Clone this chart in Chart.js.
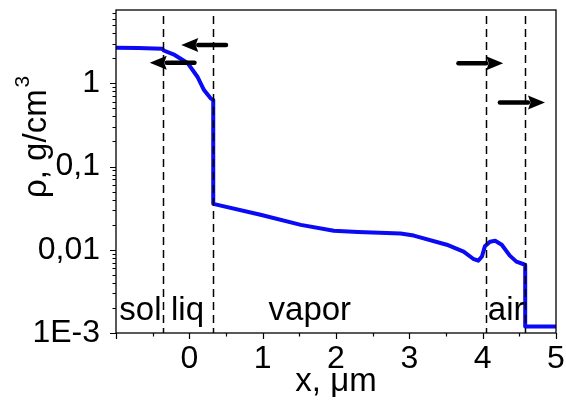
<!DOCTYPE html>
<html>
<head>
<meta charset="utf-8">
<script src="https://cdn.jsdelivr.net/npm/chart.js@4/dist/chart.umd.min.js"></script>
<style>
	html, body { margin: 0; padding: 0; background: #fff; }
	#wrap { width: 566px; height: 402px; }
</style>
</head>
<body>
<div id="wrap"><canvas id="chart" width="566" height="402"></canvas></div>
<script>

// density profile, x in micrometres, rho in g/cm3
const xValues = [ -1, -0.7, -0.37, -0.35, -0.2, -0.02, 0.11, 0.2, 0.29, 0.326, 0.326, 0.97, 1.52, 1.97, 2.3, 2.88, 3.06, 3.51, 3.74, 3.87, 3.94, 3.99, 4.03, 4.1, 4.17, 4.26, 4.37, 4.46, 4.56, 4.58, 4.58, 5 ];
const densityValues = [ 2.67, 2.65, 2.6, 2.48, 2.19, 1.74, 1.2, 0.83, 0.66, 0.63, 0.0356, 0.0263, 0.0199, 0.0169, 0.0163, 0.0157, 0.0148, 0.0115, 0.0095, 0.0078, 0.0074, 0.0083, 0.011, 0.0125, 0.0128, 0.0115, 0.0085, 0.0072, 0.0067, 0.0066, 0.0012, 0.0012 ];

// phase boundaries (dashed) and region names
const boundaryX = [ -0.36, 0.326, 4.04, 4.58 ];
const regionNames = [ 'sol', 'liq', 'vapor', 'air' ];
const regionX = [ -0.955, -0.25, 1.08, 4.07 ];
const regionY = 0.00145;

// arrows showing direction of boundary motion
const arrowTailX = [ 0.5, 0.07, 3.67, 4.235 ];
const arrowTipX = [ -0.11, -0.54, 4.28, 4.85 ];
const arrowY = [ 2.88, 1.77, 1.74, 0.59 ];

// axes
const xMin = -1;
const xMax = 5;
const xLabelled = [ 0, 1, 2, 3, 4, 5 ];
const yMin = 0.001;
const yMax = 7.6;
const yTickValues = [ 0.001, 0.01, 0.1, 1 ];
const yTickLabels = [ '1E-3', '0,01', '0,1', '1' ];

const FONT = "'Liberation Sans', Arial, sans-serif";

Chart.defaults.font.family = FONT;
Chart.defaults.color = '#000';

function xTickList () {

	const list = [];
	for ( let v = xMin; v <= xMax + 1e-9; v += 0.5 ) list.push( Math.round( v * 10 ) / 10 );
	return list;

}

function yTickList () {

	const list = [];
	for ( let e = -3; e <= 0; e++ ) {

		for ( let m = 1; m <= 9; m++ ) {

			const v = Math.round( m * Math.pow( 10, e ) * 1e6 ) / 1e6;
			if ( v <= yMax ) list.push( v );

		}

	}
	return list;

}

function isMajorY ( v ) {

	return yTickValues.some( t => Math.abs( t - v ) < t * 1e-6 );

}

const decorations = {
	id: 'decorations',
	afterDatasetsDraw ( chart ) {

		const ctx = chart.ctx;
		const area = chart.chartArea;
		const xs = chart.scales.x;
		const ys = chart.scales.y;

		ctx.save();

		// dashed boundaries
		ctx.strokeStyle = '#000';
		ctx.lineWidth = 1.5;
		ctx.setLineDash( [ 8, 5 ] );
		boundaryX.forEach( bx => {

			const px = Math.round( xs.getPixelForValue( bx ) ) + 0.5;
			ctx.beginPath();
			ctx.moveTo( px, area.top + 6 );
			ctx.lineTo( px, area.bottom );
			ctx.stroke();

		} );
		ctx.setLineDash( [] );

		// region names
		ctx.fillStyle = '#000';
		ctx.font = '33px ' + FONT;
		ctx.textAlign = 'left';
		ctx.textBaseline = 'alphabetic';
		regionNames.forEach( ( name, i ) => {

			ctx.fillText( name, xs.getPixelForValue( regionX[ i ] ), ys.getPixelForValue( regionY ) );

		} );

		// arrows
		arrowY.forEach( ( ay, i ) => {

			const x1 = xs.getPixelForValue( arrowTailX[ i ] );
			const x2 = xs.getPixelForValue( arrowTipX[ i ] );
			const y = ys.getPixelForValue( ay );
			const dir = Math.sign( x2 - x1 );
			const headLen = 17;
			const headHalf = 7;

			ctx.lineWidth = 4.5;
			ctx.lineCap = 'round';
			ctx.beginPath();
			ctx.moveTo( x1, y );
			ctx.lineTo( x2 - dir * headLen, y );
			ctx.stroke();

			ctx.beginPath();
			ctx.moveTo( x2, y );
			ctx.lineTo( x2 - dir * headLen, y - headHalf );
			ctx.lineTo( x2 - dir * headLen * 0.85, y );
			ctx.lineTo( x2 - dir * headLen, y + headHalf );
			ctx.closePath();
			ctx.fill();

		} );
		ctx.lineCap = 'butt';

		// frame
		ctx.lineWidth = 1.3;
		ctx.strokeRect( area.left, area.top, area.right - area.left, area.bottom - area.top );

		// tick marks, outward, long for major and short for minor
		ctx.lineWidth = 1.2;
		ctx.beginPath();
		xTickList().forEach( v => {

			const px = Math.round( xs.getPixelForValue( v ) ) + 0.5;
			const len = Number.isInteger( v ) ? 6 : 3.5;
			ctx.moveTo( px, area.bottom );
			ctx.lineTo( px, area.bottom + len );

		} );
		yTickList().forEach( v => {

			const py = Math.round( ys.getPixelForValue( v ) ) + 0.5;
			const len = isMajorY( v ) ? 6 : 3.5;
			ctx.moveTo( area.left, py );
			ctx.lineTo( area.left - len, py );

		} );
		ctx.stroke();

		// axis titles
		ctx.font = '33px ' + FONT;
		ctx.textAlign = 'center';
		ctx.fillText( 'x, \u03bcm', 336, 391 );

		ctx.translate( 46, 198 );
		ctx.rotate( -Math.PI / 2 );
		ctx.textAlign = 'left';
		ctx.fillText( '\u03c1, g/cm', 0, 0 );
		const w = ctx.measureText( '\u03c1, g/cm' ).width;
		ctx.font = '21px ' + FONT;
		ctx.fillText( '3', w + 2, -17 );

		ctx.restore();

	}
};

const points = xValues.map( ( x, i ) => ( { x: x, y: densityValues[ i ] } ) );

new Chart( document.getElementById( 'chart' ), {
	type: 'scatter',
	data: {
		datasets: [ {
			data: points,
			showLine: true,
			borderColor: '#0a0af5',
			borderWidth: 4,
			pointRadius: 0,
			tension: 0,
			borderJoinStyle: 'round'
		} ]
	},
	options: {
		responsive: false,
		animation: false,
		devicePixelRatio: 1,
		layout: {
			padding: { top: 10, right: 10, left: 0, bottom: 0 }
		},
		plugins: {
			legend: { display: false },
			tooltip: { enabled: false }
		},
		scales: {
			x: {
				type: 'linear',
				min: xMin,
				max: xMax,
				afterBuildTicks: scale => { scale.ticks = xTickList().map( v => ( { value: v } ) ); },
				afterFit: scale => {
					scale.height = 69;
					scale.paddingLeft = 0;
					scale.paddingRight = 0;
				},
				grid: { display: false, drawTicks: false },
				border: { display: false },
				ticks: {
					autoSkip: false,
					maxRotation: 0,
					padding: 7,
					font: { size: 32 },
					callback: v => xLabelled.includes( v ) ? String( v ) : ''
				}
			},
			y: {
				type: 'logarithmic',
				min: yMin,
				max: yMax,
				afterBuildTicks: scale => { scale.ticks = yTickList().map( v => ( { value: v } ) ); },
				afterFit: scale => {
					scale.width = 116;
					scale.paddingTop = 0;
					scale.paddingBottom = 0;
				},
				grid: { display: false, drawTicks: false },
				border: { display: false },
				ticks: {
					autoSkip: false,
					padding: 16,
					font: { size: 32 },
					callback: v => {
						const i = yTickValues.findIndex( t => Math.abs( t - v ) < t * 1e-6 );
						return i >= 0 ? yTickLabels[ i ] : '';
					}
				}
			}
		}
	},
	plugins: [ decorations ]
} );

</script>
</body>
</html>
